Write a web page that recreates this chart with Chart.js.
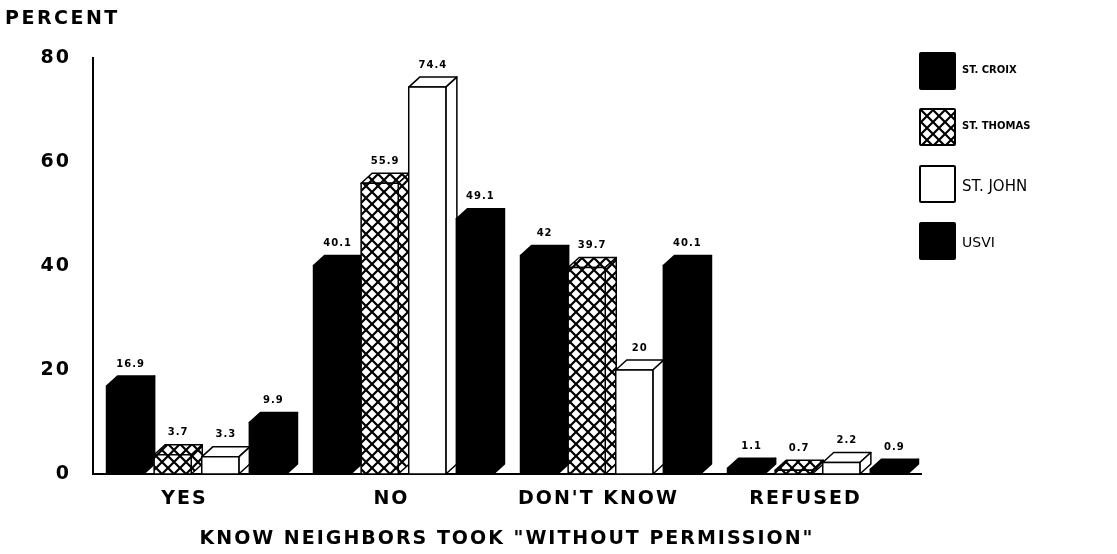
<!DOCTYPE html>
<html>
<head>
<meta charset="utf-8">
<script src="https://cdn.jsdelivr.net/npm/chart.js@4.4.1/dist/chart.umd.min.js"></script>
<style>
  html, body { margin: 0; padding: 0; background: #fff; }
  #wrap { position: relative; width: 1117px; height: 554px; overflow: hidden; }
  #chart { position: absolute; left: 0; top: 0; }
  #percent { position: absolute; left: 5px; top: 6px; font: bold 19px "DejaVu Sans", sans-serif; letter-spacing: 2.5px; color: #000; }
  .leg { position: absolute; left: 919px; width: 33px; height: 34px; border: 2px solid #000; border-radius: 2px; box-sizing: content-box; }
  .legTxt { position: absolute; left: 962px; color: #000; font-family: "DejaVu Sans", sans-serif; }
</style>
</head>
<body>
<div id="wrap">
  <canvas id="chart" width="1117" height="554"></canvas>
  <div id="percent">PERCENT</div>
  <div id="legend"></div>
</div>
<script>
const categories = ['YES', 'NO', "DON'T KNOW", 'REFUSED'];
const seriesNames = ['ST. CROIX', 'ST. THOMAS', 'ST. JOHN', 'USVI'];
const stCroix = [16.9, 40.1, 42, 1.1];
const stThomas = [3.7, 55.9, 39.7, 0.7];
const stJohn = [3.3, 74.4, 20, 2.2];
const usvi = [9.9, 49.1, 40.1, 0.9];
const yTicks = [0, 20, 40, 60, 80];
const xTitle = 'KNOW NEIGHBORS TOOK "WITHOUT PERMISSION"';

// fill kinds per series
const fills = ['black', 'hatch', 'white', 'black'];

function makeHatch() {
    const c = document.createElement('canvas');
    c.width = 12; c.height = 12;
    const g = c.getContext('2d');
    g.fillStyle = '#fff';
    g.fillRect(0, 0, 12, 12);
    g.strokeStyle = '#000';
    g.lineWidth = 2.2;
    g.beginPath();
    g.moveTo(-3, -3); g.lineTo(15, 15);
    g.moveTo(-3, 15); g.lineTo(15, -3);
    g.stroke();
    return c;
}
const hatchCanvas = makeHatch();

const DX = 11, DY = 10;

// wide spaced lettering like the original typesetting
const spacing = {
    id: 'spacing',
    beforeLayout(chart) { chart.ctx.letterSpacing = '2px'; },
    beforeDraw(chart) { chart.ctx.letterSpacing = '2px'; }
};

const bars3d = {
    id: 'bars3d',
    afterDatasetsDraw(chart) {
        const ctx = chart.ctx;
        const pattern = ctx.createPattern(hatchCanvas, 'repeat');
        const n = chart.data.labels.length;
        const labels = [];
        for (let i = 0; i < n; i++) {
            chart.data.datasets.forEach((ds, j) => {
                const el = chart.getDatasetMeta(j).data[i];
                const p = el.getProps(['x', 'y', 'base', 'width'], true);
                const L = p.x - p.width / 2, R = p.x + p.width / 2;
                const top = p.y, base = p.base;
                const kind = fills[j];
                const fill = kind === 'black' ? '#000' : (kind === 'hatch' ? pattern : '#fff');
                ctx.save();
                ctx.lineWidth = 1.5;
                ctx.strokeStyle = '#000';
                ctx.lineJoin = 'round';
                // top face
                ctx.beginPath();
                ctx.moveTo(L, top);
                ctx.lineTo(L + DX, top - DY);
                ctx.lineTo(R + DX, top - DY);
                ctx.lineTo(R, top);
                ctx.closePath();
                ctx.fillStyle = fill;
                ctx.fill();
                ctx.stroke();
                // side face
                ctx.beginPath();
                ctx.moveTo(R, top);
                ctx.lineTo(R + DX, top - DY);
                ctx.lineTo(R + DX, Math.max(base - DY, top - DY));
                ctx.lineTo(R, base);
                ctx.closePath();
                ctx.fill();
                ctx.stroke();
                // front
                ctx.fillRect(L, top, R - L, base - top);
                ctx.strokeRect(L, top, R - L, base - top);
                ctx.restore();
                labels.push({ x: p.x + DX / 2, y: top - DY - 7, t: String(ds.data[i]) });
            });
        }
        ctx.save();
        ctx.letterSpacing = '1px';
        ctx.fillStyle = '#000';
        ctx.font = 'bold 10px "DejaVu Sans", sans-serif';
        ctx.textAlign = 'center';
        ctx.textBaseline = 'bottom';
        labels.forEach(l => ctx.fillText(l.t, l.x, l.y));
        ctx.restore();
    }
};

const seriesData = [stCroix, stThomas, stJohn, usvi];

new Chart(document.getElementById('chart'), {
    type: 'bar',
    data: {
        labels: categories,
        datasets: seriesNames.map((name, j) => ({
            label: name,
            data: seriesData[j],
            backgroundColor: 'rgba(0,0,0,0)',
            borderWidth: 0,
            categoryPercentage: 0.92,
            barPercentage: 0.78
        }))
    },
    options: {
        responsive: false,
        animation: false,
        layout: { padding: { left: 0, top: 58, right: 196, bottom: 0 } },
        plugins: { legend: { display: false }, tooltip: { enabled: false } },
        scales: {
            x: {
                grid: { display: false },
                border: { display: true, color: '#000', width: 2 },
                ticks: {
                    color: '#000',
                    padding: 6,
                    labelOffset: -12,
                    font: { family: 'DejaVu Sans', weight: 'bold', size: 19 }
                },
                title: {
                    display: true,
                    text: xTitle,
                    color: '#000',
                    padding: { top: 12 },
                    font: { family: 'DejaVu Sans', weight: 'bold', size: 19 }
                },
                afterFit(s) { s.height = 80; }
            },
            y: {
                min: 0,
                max: 80,
                grid: { display: false },
                border: { display: true, color: '#000', width: 2 },
                afterBuildTicks(s) { s.ticks = yTicks.map(v => ({ value: v })); },
                ticks: {
                    color: '#000',
                    padding: 14,
                    font: { family: 'DejaVu Sans', weight: 'bold', size: 19 }
                },
                afterFit(s) { s.width = 93; }
            }
        }
    },
    plugins: [spacing, bars3d]
});

// legend on the right
const legend = document.getElementById('legend');
const legTops = [52, 108, 165, 222];
const legFonts = ['bold 10px', 'bold 10px', '15px', '14px'];
seriesNames.forEach((name, j) => {
    const box = document.createElement('div');
    box.className = 'leg';
    box.style.top = legTops[j] + 'px';
    if (fills[j] === 'black') box.style.background = '#000';
    else if (fills[j] === 'hatch') box.style.backgroundImage = 'url(' + hatchCanvas.toDataURL() + ')';
    else box.style.background = '#fff';
    legend.appendChild(box);
    const txt = document.createElement('div');
    txt.className = 'legTxt';
    txt.style.top = (legTops[j] + 12) + 'px';
    txt.style.font = legFonts[j] + ' "DejaVu Sans", sans-serif';
    txt.textContent = name;
    legend.appendChild(txt);
});
</script>
</body>
</html>
